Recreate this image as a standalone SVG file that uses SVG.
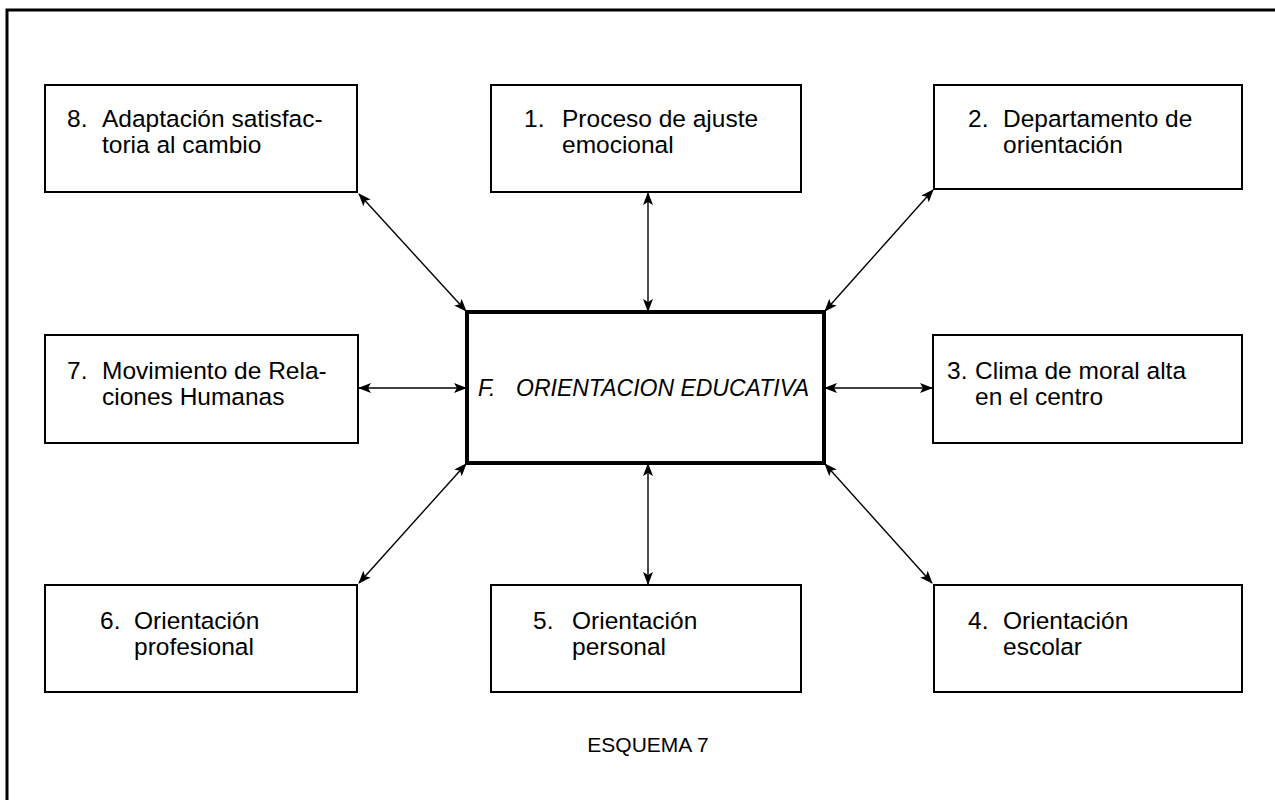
<svg xmlns="http://www.w3.org/2000/svg" width="1275" height="800" viewBox="0 0 1275 800">
<defs>
<marker id="ah" viewBox="0 0 13 10" refX="12" refY="5" markerWidth="13" markerHeight="10" markerUnits="userSpaceOnUse" orient="auto-start-reverse">
<path d="M0,0 L13,5 L0,10 L3,5 Z" fill="#000"/>
</marker>
<style>
.box{fill:#fff;stroke:#000;stroke-width:2}
.main{fill:#fff;stroke:#000;stroke-width:4}
.t{font-family:"Liberation Sans",Arial,sans-serif;font-size:24.5px;fill:#000}
.ti{font-family:"Liberation Sans",Arial,sans-serif;font-size:23px;font-style:italic;fill:#000}
.c{stroke:#000;stroke-width:1.4;fill:none;marker-start:url(#ah);marker-end:url(#ah)}
</style>
</defs>
<rect width="1275" height="800" fill="#fff"/>
<g id="frame" stroke="#000" stroke-width="3" fill="none">
<path d="M7,800 L7,10 L1275,10"/>
</g>
<g id="connectors">
<line class="c" x1="359" y1="194" x2="466" y2="311"/>
<line class="c" x1="648" y1="193" x2="648" y2="311"/>
<line class="c" x1="933" y1="190" x2="825" y2="311"/>
<line class="c" x1="359" y1="388" x2="466" y2="388"/>
<line class="c" x1="825" y1="388" x2="932" y2="388"/>
<line class="c" x1="359" y1="583" x2="466" y2="464"/>
<line class="c" x1="648" y1="584" x2="648" y2="464"/>
<line class="c" x1="932" y1="583" x2="825" y2="464"/>
</g>
<g id="n8"><rect class="box" x="45" y="85" width="312" height="107"/>
<text class="t" x="67" y="127">8.</text><text class="t" x="102" y="127">Adaptación satisfac-</text><text class="t" x="102" y="153">toria al cambio</text></g>
<g id="n1"><rect class="box" x="491" y="85" width="310" height="107"/>
<text class="t" x="524" y="127">1.</text><text class="t" x="562" y="127">Proceso de ajuste</text><text class="t" x="562" y="153">emocional</text></g>
<g id="n2"><rect class="box" x="934" y="85" width="308" height="104"/>
<text class="t" x="968" y="127">2.</text><text class="t" x="1003" y="127">Departamento de</text><text class="t" x="1003" y="153">orientación</text></g>
<g id="n7"><rect class="box" x="45" y="335" width="313" height="108"/>
<text class="t" x="67" y="379">7.</text><text class="t" x="102" y="379">Movimiento de Rela-</text><text class="t" x="102" y="405">ciones Humanas</text></g>
<g id="nF"><rect class="main" x="467" y="312" width="357" height="151"/>
<text class="ti" x="478" y="396">F.</text><text class="ti" x="516" y="396">ORIENTACION EDUCATIVA</text></g>
<g id="n3"><rect class="box" x="933" y="335" width="309" height="108"/>
<text class="t" x="947" y="379">3.</text><text class="t" x="975" y="379">Clima de moral alta</text><text class="t" x="975" y="405">en el centro</text></g>
<g id="n6"><rect class="box" x="45" y="585" width="312" height="107"/>
<text class="t" x="100" y="629">6.</text><text class="t" x="134" y="629">Orientación</text><text class="t" x="134" y="655">profesional</text></g>
<g id="n5"><rect class="box" x="491" y="585" width="310" height="107"/>
<text class="t" x="533" y="629">5.</text><text class="t" x="572" y="629">Orientación</text><text class="t" x="572" y="655">personal</text></g>
<g id="n4"><rect class="box" x="934" y="585" width="308" height="107"/>
<text class="t" x="968" y="629">4.</text><text class="t" x="1003" y="629">Orientación</text><text class="t" x="1003" y="655">escolar</text></g>
<text class="t" x="648" y="752" text-anchor="middle" style="font-size:21px">ESQUEMA 7</text>
</svg>
